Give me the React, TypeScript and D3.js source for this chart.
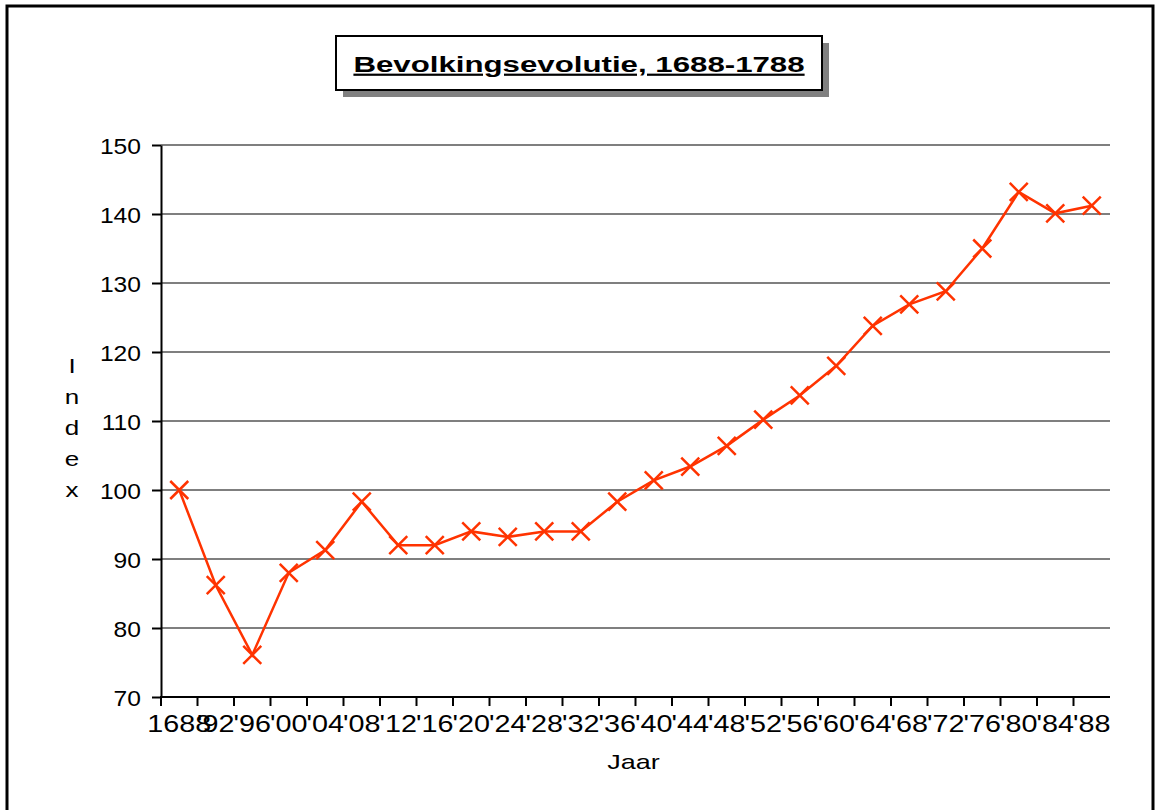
import { useEffect, useRef } from "react";
import * as d3 from "d3";

// ----- Data ----------------------------------------------------------------
const years = [
  "1688", "'92", "'96", "'00", "'04", "'08", "'12", "'16", "'20", "'24",
  "'28", "'32", "'36", "'40", "'44", "'48", "'52", "'56", "'60", "'64",
  "'68", "'72", "'76", "'80", "'84", "'88",
];
const indexValues = [
  100, 86.2, 76.1, 88, 91.3, 98.3, 92, 92, 94, 93.2,
  94, 94, 98.3, 101.4, 103.4, 106.4, 110.2, 113.7, 118, 123.8,
  126.9, 128.8, 135, 143.2, 140.1, 141.2,
];
const yTicks = [70, 80, 90, 100, 110, 120, 130, 140, 150];
const title = "Bevolkingsevolutie, 1688-1788";
const xTitle = "Jaar";
const yTitle = "Index";

const W = 1155;
const H = 810;
const FONT = "'Liberation Sans', Arial, sans-serif";
const LINE = "#ff3300";

const App = () => {
  const svgRef = useRef<SVGSVGElement | null>(null);

  useEffect(() => {
    const svg = d3.select(svgRef.current);
    svg.selectAll("*").remove();

    const plot = { left: 161, right: 1110, top: 145, bottom: 697 };

    // outer frame
    svg.append("rect")
      .attr("x", 7).attr("y", 6)
      .attr("width", 1146).attr("height", 820)
      .attr("fill", "#fff").attr("stroke", "#000").attr("stroke-width", 3);

    // ----- Scales ----------------------------------------------------------
    const x = d3.scaleBand<string>().domain(years).range([plot.left, plot.right]).padding(0);
    const y = d3.scaleLinear().domain([70, 150]).range([plot.bottom, plot.top]);

    // gridlines
    svg.append("g")
      .selectAll("line")
      .data(yTicks.slice(1))
      .join("line")
      .attr("x1", plot.left).attr("x2", plot.right)
      .attr("y1", (d) => y(d)).attr("y2", (d) => y(d))
      .attr("stroke", "#7f7f7f").attr("stroke-width", 2);

    // y axis
    const yAxis = svg.append("g")
      .attr("transform", `translate(${plot.left},0)`)
      .call(d3.axisLeft(y).tickValues(yTicks).tickSize(9).tickSizeOuter(0));
    yAxis.select(".domain").attr("stroke", "#000").attr("stroke-width", 2);
    yAxis.selectAll(".tick line").attr("stroke", "#000").attr("stroke-width", 2);
    yAxis.selectAll(".tick text")
      .attr("x", null).attr("dy", null)
      .attr("transform", "translate(-20,8) scale(1.12,1)")
      .attr("text-anchor", "end")
      .attr("font-family", FONT).attr("font-size", 22).attr("fill", "#000");

    // x axis: ticks on band boundaries, labels at band centres
    const xAxis = svg.append("g").attr("transform", `translate(0,${plot.bottom})`);
    xAxis.append("line")
      .attr("x1", plot.left - 1).attr("x2", plot.right)
      .attr("stroke", "#000").attr("stroke-width", 2);
    xAxis.selectAll("line.tick")
      .data(years)
      .join("line")
      .attr("class", "tick")
      .attr("x1", (d) => x(d)!).attr("x2", (d) => x(d)!)
      .attr("y1", 0).attr("y2", 9)
      .attr("stroke", "#000").attr("stroke-width", 2);
    xAxis.selectAll("text")
      .data(years)
      .join("text")
      .attr("transform", (d) => `translate(${x(d)! + x.bandwidth() / 2},35) scale(1.25,1)`)
      .attr("text-anchor", "middle")
      .attr("font-family", FONT).attr("font-size", 23)
      .text((d) => d);

    // ----- Line + markers --------------------------------------------------
    const pts = years.map((yr, i) => ({ yr, v: indexValues[i] }));
    const line = d3.line<{ yr: string; v: number }>()
      .x((d) => x(d.yr)! + x.bandwidth() / 2)
      .y((d) => y(d.v));

    svg.append("path")
      .datum(pts)
      .attr("fill", "none").attr("stroke", LINE).attr("stroke-width", 2.5)
      .attr("d", line);

    const s = 9;
    svg.append("g")
      .selectAll("path")
      .data(pts)
      .join("path")
      .attr("transform", (d) => `translate(${x(d.yr)! + x.bandwidth() / 2},${y(d.v)})`)
      .attr("d", `M${-s},${-s}L${s},${s}M${-s},${s}L${s},${-s}`)
      .attr("stroke", LINE).attr("stroke-width", 2.5).attr("fill", "none");

    // ----- Axis titles -----------------------------------------------------
    svg.append("text")
      .attr("transform", `translate(${(plot.left + plot.right) / 2 - 2},769) scale(1.35,1)`)
      .attr("text-anchor", "middle")
      .attr("font-family", FONT).attr("font-size", 20)
      .text(xTitle);

    svg.append("g")
      .selectAll("text")
      .data(yTitle.split(""))
      .join("text")
      .attr("transform", (_, i) => `translate(72,${373 + i * 31}) scale(1.3,1)`)
      .attr("text-anchor", "middle")
      .attr("font-family", FONT).attr("font-size", 20)
      .text((d) => d);

    // ----- Title box -------------------------------------------------------
    const tb = { x: 336, y: 36, w: 486, h: 54 };
    svg.append("rect")
      .attr("x", tb.x + 7).attr("y", tb.y + 7)
      .attr("width", tb.w).attr("height", tb.h)
      .attr("fill", "#808080");
    svg.append("rect")
      .attr("x", tb.x).attr("y", tb.y)
      .attr("width", tb.w).attr("height", tb.h)
      .attr("fill", "#fff").attr("stroke", "#000").attr("stroke-width", 2);
    svg.append("text")
      .attr("transform", `translate(${tb.x + tb.w / 2},72) scale(1.42,1)`)
      .attr("text-anchor", "middle")
      .attr("font-family", FONT).attr("font-size", 22).attr("font-weight", "bold")
      .attr("text-decoration", "underline")
      .text(title);
  }, []);

  return (
    <svg
      ref={svgRef}
      width={W}
      height={H}
      style={{ position: "absolute", left: 0, top: 0, background: "#fff" }}
    />
  );
};

export default App;
